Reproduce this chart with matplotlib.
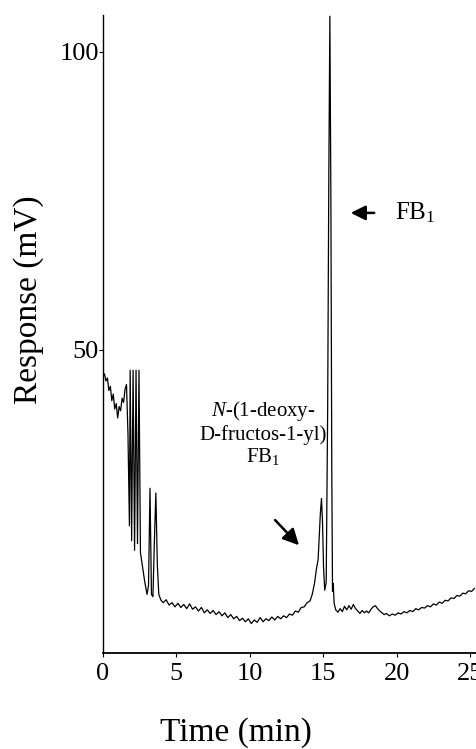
import matplotlib
matplotlib.use("Agg")
import matplotlib.pyplot as plt

plt.rcParams['font.family'] = ['Liberation Serif', 'DejaVu Serif']
plt.rcParams['mathtext.fontset'] = 'custom'
plt.rcParams['mathtext.rm'] = 'Liberation Serif'
plt.rcParams['mathtext.it'] = 'Liberation Serif:italic'

# chromatogram trace (time in min, response in mV)
time = [0.00, 0.10, 0.20, 0.30, 0.40, 0.50, 0.60, 0.70, 0.80, 0.90,
        1.00, 1.10, 1.20, 1.30, 1.40, 1.50, 1.60, 1.70, 1.80, 1.85,
        1.95, 2.05, 2.15, 2.25, 2.35, 2.45, 2.55, 2.70, 2.85, 3.00,
        3.10, 3.20, 3.30, 3.40, 3.50, 3.60, 3.70, 3.80, 3.95, 4.10,
        4.30, 4.50, 4.70, 4.90, 5.10, 5.30, 5.50, 5.70, 5.90, 6.10,
        6.30, 6.50, 6.70, 6.90, 7.10, 7.30, 7.50, 7.70, 7.90, 8.10,
        8.30, 8.50, 8.70, 8.90, 9.10, 9.30, 9.50, 9.70, 9.90, 10.10,
        10.30, 10.50, 10.70, 10.90, 11.10, 11.30, 11.50, 11.70, 11.90, 12.10,
        12.30, 12.50, 12.70, 12.90, 13.10, 13.30, 13.50, 13.70, 13.90, 14.10,
        14.25, 14.40, 14.55, 14.65, 14.72, 14.80, 14.88, 14.95, 15.02, 15.10,
        15.20, 15.30, 15.38, 15.45, 15.52, 15.58, 15.63, 15.68, 15.74, 15.85,
        16.00, 16.15, 16.30, 16.45, 16.60, 16.75, 16.90, 17.05, 17.20, 17.35,
        17.50, 17.65, 17.80, 17.95, 18.10, 18.25, 18.40, 18.55, 18.70, 18.85,
        19.00, 19.15, 19.30, 19.50, 19.70, 19.90, 20.10, 20.30, 20.50, 20.70,
        20.90, 21.10, 21.30, 21.50, 21.70, 21.90, 22.10, 22.30, 22.50, 22.70,
        22.90, 23.10, 23.30, 23.50, 23.70, 23.90, 24.10, 24.30, 24.50, 24.70,
        24.90, 25.10, 25.30]
response = [45.5, 46.0, 44.8, 45.3, 43.2, 43.9, 41.5, 42.6, 40.1, 41.0,
            38.6, 40.5, 39.8, 41.9, 41.2, 43.4, 44.2, 36.0, 20.5, 46.6,
            18.0, 46.6, 16.4, 46.6, 17.5, 46.6, 16.0, 13.5, 11.0, 9.0,
            10.5, 26.8, 9.0, 8.6, 18.0, 26.0, 14.0, 9.0, 8.0, 7.6,
            8.1, 7.2, 7.6, 6.9, 7.5, 6.8, 7.3, 6.6, 7.4, 6.5,
            6.9, 6.2, 6.8, 5.9, 6.4, 5.8, 6.3, 5.6, 6.1, 5.4,
            5.9, 5.1, 5.6, 4.9, 5.3, 4.6, 5.0, 4.4, 4.9, 4.1,
            4.7, 4.3, 5.1, 4.4, 4.9, 4.6, 5.2, 4.7, 5.3, 4.9,
            5.4, 5.1, 5.7, 5.5, 6.2, 6.0, 6.8, 6.9, 7.6, 7.9,
            9.0, 10.8, 13.5, 14.8, 18.5, 22.5, 25.1, 21.0, 13.5, 9.7,
            11.0, 40.0, 80.0, 106.0, 75.0, 30.0, 9.5, 10.8, 7.5, 6.4,
            6.0, 6.6, 6.1, 7.0, 6.4, 7.1, 6.5, 7.3, 6.6, 6.2,
            5.8, 6.3, 5.9, 6.2, 5.9, 6.5, 6.9, 7.1, 6.6, 6.2,
            5.9, 5.6, 5.8, 5.4, 5.7, 5.5, 5.9, 5.7, 6.1, 5.9,
            6.3, 6.1, 6.6, 6.4, 6.8, 6.7, 7.1, 6.9, 7.4, 7.2,
            7.7, 7.5, 8.0, 7.9, 8.4, 8.3, 8.8, 8.7, 9.2, 9.1,
            9.6, 9.5, 10.0]

x_ticks = [0, 5, 10, 15, 20, 25]
y_ticks = [50, 100]

fig = plt.figure(figsize=(4.77, 7.49), dpi=100)
ax = fig.add_axes([103 / 477, 96 / 749, 374 / 477, 638 / 749])
ax.plot(time, response, color='black', lw=0.9)

ax.set_xlim(0, 25.47)
ax.set_ylim(-0.84, 106.2)
ax.set_xticks(x_ticks)
ax.set_yticks(y_ticks)
ax.tick_params(labelsize=19, length=3, width=0.8)
ax.tick_params(axis='x', pad=4)
ax.tick_params(axis='y', pad=0)
for s in ['top', 'right']:
    ax.spines[s].set_visible(False)
ax.spines['left'].set_linewidth(1.0)
ax.spines['bottom'].set_linewidth(1.3)

fig.text(236 / 477, 1 - 733 / 749, 'Time (min)', fontsize=24,
         ha='center', va='center')
fig.text(29 / 477, 1 - 300 / 749, 'Response (mV)', fontsize=24,
         rotation=90, ha='center', va='center')

ax.text(10.9, 36.0, '$\\it{N}$-(1-deoxy-\nD-fructos-1-yl)\nFB$_1$',
        fontsize=15, ha='center', va='center', linespacing=1.1)
ax.annotate('', xy=(13.48, 16.9), xytext=(11.59, 21.8),
            arrowprops=dict(arrowstyle='-|>', color='black', lw=1.8,
                            mutation_scale=24))

ax.annotate('', xy=(16.68, 73.0), xytext=(18.66, 73.0),
            arrowprops=dict(arrowstyle='-|>', color='black', lw=1.8,
                            mutation_scale=22))
ax.text(19.9, 73.0, 'FB$_1$', fontsize=18, ha='left', va='center')

fig.savefig('out.png', dpi=100)
